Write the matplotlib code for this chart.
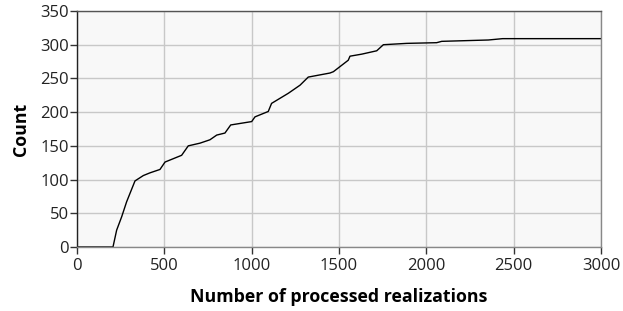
import matplotlib
matplotlib.use("Agg")
import matplotlib.pyplot as plt

# Data
realizations = [0, 206, 227, 256, 284, 332, 380, 418, 475, 504, 599, 637, 704, 761,
                800, 847, 880, 1000, 1019, 1095, 1114, 1210, 1277, 1324, 1448, 1468,
                1553, 1563, 1630, 1716, 1754, 1888, 2059, 2088, 2355, 2437, 3000]
count = [0, 0, 25, 45, 67, 98, 106, 110, 115, 126, 136, 150, 154, 159,
         166, 169, 181, 186, 193, 201, 213, 228, 240, 252, 258, 260,
         277, 283, 286, 291, 300, 302, 303, 305, 307, 309, 309]
x_ticks = [0, 500, 1000, 1500, 2000, 2500, 3000]
y_ticks = [0, 50, 100, 150, 200, 250, 300, 350]

plt.rcParams['font.family'] = ['Open Sans', 'DejaVu Sans']

fig = plt.figure(figsize=(6.23, 3.11), dpi=100)
ax = fig.add_axes([77/623, 64/311, (601-77)/623, (247-11)/311])
ax.set_facecolor('#f8f8f8')

ax.plot(realizations, count, color='black', lw=1.0)

ax.set_xlim(0, 3000)
ax.set_ylim(0, 350)
ax.set_xticks(x_ticks)
ax.set_yticks(y_ticks)
ax.grid(True, color='#c8c8c8', lw=1.0)
ax.set_axisbelow(True)

ax.tick_params(axis='both', direction='out', length=5, width=1, colors='#333333',
               labelsize=12, labelcolor='#222222')
ax.tick_params(axis='y', pad=1)
ax.tick_params(axis='x', pad=3)

for side, col in [('left', '#222222'), ('top', '#555555'), ('right', '#888888'), ('bottom', '#888888')]:
    ax.spines[side].set_color(col)
    ax.spines[side].set_linewidth(1.0)

ax.set_xlabel('Number of processed realizations', fontsize=12.8, fontweight='bold')
ax.set_ylabel('Count', fontsize=12.8, fontweight='bold')
ax.xaxis.set_label_coords(0.5, -0.172)
ax.yaxis.set_label_coords(-0.09, 0.5)

fig.savefig('out.png', dpi=100)
